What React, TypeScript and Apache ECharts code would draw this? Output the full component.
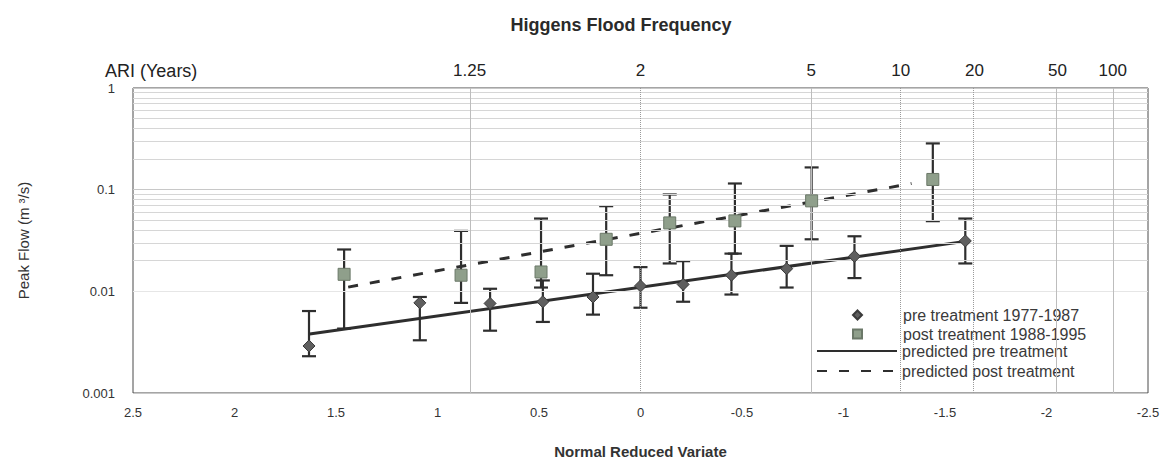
import React, { useEffect, useRef } from "react";
import * as echarts from "echarts";

// ---- data ----
const ariLabels = ["1.25", "2", "5", "10", "20", "50", "100"];
const ariZ = [0.8416, 0, -0.8416, -1.2816, -1.6449, -2.0537, -2.3263];
const ariLineDashed = [false, true, false, true, true, false, false];

const yTickValues = [0.001, 0.01, 0.1, 1];
const yTickLabels = ["0.001", "0.01", "0.1", "1"];
const yMinorLevels = [
  0.002, 0.003, 0.004, 0.005, 0.006, 0.007, 0.008, 0.009,
  0.02, 0.03, 0.04, 0.05, 0.06, 0.07, 0.08, 0.09,
  0.2, 0.3, 0.4, 0.5, 0.6, 0.7, 0.8, 0.9,
];

const preX = [1.633, 1.087, 0.741, 0.481, 0.234, 0.0, -0.21, -0.448, -0.72, -1.054, -1.6];
const preY = [0.0029, 0.0077, 0.0076, 0.0079, 0.0088, 0.0113, 0.0117, 0.0144, 0.0167, 0.0221, 0.0313];
const preLow = [0.0023, 0.0033, 0.0041, 0.005, 0.0059, 0.0069, 0.0079, 0.0093, 0.0109, 0.0135, 0.0188];
const preHigh = [0.0064, 0.0088, 0.0106, 0.0128, 0.0149, 0.0173, 0.0198, 0.0235, 0.028, 0.0348, 0.052];

const postX = [1.46, 0.884, 0.49, 0.169, -0.144, -0.465, -0.843, -1.44];
const postY = [0.0147, 0.0144, 0.0155, 0.0325, 0.0471, 0.0493, 0.0776, 0.126];
const postLow = [0.0043, 0.0077, 0.0109, 0.0144, 0.0188, 0.0235, 0.0325, 0.049];
const postHigh = [0.0258, 0.0393, 0.052, 0.0688, 0.0897, 0.115, 0.1655, 0.285];

const predPreX = [1.63, -1.6];
const predPreY = [0.0038, 0.031];
const predPostX = [1.44, -1.335];
const predPostY = [0.011, 0.115];

const FONT = "'Liberation Sans', Arial, Helvetica, sans-serif";

function errorBarRender(params: any, api: any) {
  const x = api.value(0);
  const lo = api.value(1);
  const hi = api.value(2);
  const a = api.coord([x, hi]);
  const b = api.coord([x, lo]);
  const hw = 7;
  const style = { stroke: "#2e2e2e", lineWidth: 2.2 };
  return {
    type: "group",
    children: [
      { type: "line", shape: { x1: a[0], y1: a[1], x2: b[0], y2: b[1] }, style },
      { type: "line", shape: { x1: a[0] - hw, y1: a[1], x2: a[0] + hw, y2: a[1] }, style },
      { type: "line", shape: { x1: b[0] - hw, y1: b[1], x2: b[0] + hw, y2: b[1] }, style },
    ],
  };
}

export default function App() {
  const ref = useRef<HTMLDivElement>(null);

  useEffect(() => {
    document.body.style.margin = "0";
    if (!ref.current) return;
    const chart = echarts.init(ref.current, undefined, { renderer: "svg" });

    const option: any = {
      animation: false,
      backgroundColor: "#ffffff",
      textStyle: { fontFamily: FONT },
      title: [
        {
          text: "Higgens Flood Frequency",
          left: 616,
          textAlign: "center",
          top: 11,
          textStyle: { fontFamily: FONT, fontSize: 18, fontWeight: "bold", color: "#2a2a2a" },
        },
        {
          text: "ARI (Years)",
          left: 100,
          top: 57,
          textStyle: { fontFamily: FONT, fontSize: 18, fontWeight: "normal", color: "#222" },
        },
      ],
      legend: [
        {
          orient: "vertical",
          left: 847,
          top: 302,
          itemWidth: 9,
          itemHeight: 9,
          itemGap: 3,
          selectedMode: false,
          data: ["pre treatment 1977-1987", "post treatment 1988-1995"],
          textStyle: { fontFamily: FONT, fontSize: 16, color: "#3a3a3a", padding: [0, 0, 0, 36] },
        },
        {
          orient: "vertical",
          left: 811,
          top: 338,
          itemWidth: 80,
          itemHeight: 14,
          itemGap: 4,
          selectedMode: false,
          data: [
            { name: "predicted pre treatment", itemStyle: { opacity: 0 } },
            { name: "predicted post treatment", itemStyle: { opacity: 0 } },
          ],
          textStyle: { fontFamily: FONT, fontSize: 16, color: "#3a3a3a" },
          lineStyle: { width: 2 },
        },
      ],
      grid: {
        left: 133,
        right: 20,
        top: 88,
        bottom: 75,
        show: true,
        borderColor: "#4a4a4a",
        borderWidth: 1,
      },
      xAxis: [
        {
          type: "value",
          min: -2.5,
          max: 2.5,
          interval: 0.5,
          inverse: true,
          position: "bottom",
          axisLine: { show: false },
          axisTick: { show: false },
          splitLine: { show: false },
          axisLabel: { fontFamily: FONT, fontSize: 13, color: "#333", margin: 13 },
          name: "Normal Reduced Variate",
          nameLocation: "middle",
          nameGap: 51,
          nameTextStyle: { fontFamily: FONT, fontSize: 15, fontWeight: "bold", color: "#333" },
        },
        {
          type: "value",
          min: -2.5,
          max: 2.5,
          inverse: true,
          position: "top",
          axisLine: { show: false },
          axisTick: { show: false },
          splitLine: { show: false },
          axisLabel: {
            fontFamily: FONT,
            fontSize: 17,
            color: "#222",
            margin: 9,
            customValues: ariZ,
            formatter: (v: number) => {
              let best = 0;
              for (let i = 1; i < ariZ.length; i++) {
                if (Math.abs(ariZ[i] - v) < Math.abs(ariZ[best] - v)) best = i;
              }
              return ariLabels[best];
            },
          },
        },
      ],
      yAxis: {
        type: "log",
        logBase: 10,
        min: 0.001,
        max: 1,
        axisLine: { show: false },
        axisTick: { show: false },
        splitLine: { show: true, lineStyle: { color: "#c8c8c8", width: 1 } },
        axisLabel: {
          fontFamily: FONT,
          fontSize: 13,
          color: "#333",
          margin: 18,
          formatter: (v: number) => {
            let best = 0;
            for (let i = 1; i < yTickValues.length; i++) {
              if (Math.abs(Math.log10(yTickValues[i]) - Math.log10(v)) < Math.abs(Math.log10(yTickValues[best]) - Math.log10(v))) best = i;
            }
            return yTickLabels[best];
          },
        },
        name: "Peak Flow (m ³/s)",
        nameLocation: "middle",
        nameGap: 102,
        nameRotate: 90,
        nameTextStyle: { fontFamily: FONT, fontSize: 15, color: "#333" },
      },
      series: [
        {
          name: "gridlines",
          type: "line",
          data: [],
          z: 1,
          silent: true,
          symbol: "none",
          markLine: {
            silent: true,
            symbol: "none",
            label: { show: false },
            animation: false,
            data: [
              ...yMinorLevels.map((v) => ({
                yAxis: v,
                lineStyle: { color: v < 0.01 ? "#e6e6e6" : "#d6d6d6", width: 1, type: "solid" },
              })),
              ...ariZ.map((v, i) => ({
                xAxis: v,
                lineStyle: { color: ariLineDashed[i] ? "#9a9a9a" : "#bdbdbd", width: 1, type: ariLineDashed[i] ? "dotted" : "solid" },
              })),
            ],
          },
        },
        {
          name: "pre error",
          type: "custom",
          z: 3,
          silent: true,
          renderItem: errorBarRender,
          encode: { x: 0, y: [1, 2] },
          data: preX.map((x, i) => [x, preLow[i], preHigh[i]]),
        },
        {
          name: "post error",
          type: "custom",
          z: 3,
          silent: true,
          renderItem: errorBarRender,
          encode: { x: 0, y: [1, 2] },
          data: postX.map((x, i) => [x, postLow[i], postHigh[i]]),
        },
        {
          name: "predicted pre treatment",
          type: "line",
          z: 4,
          symbol: "none",
          data: predPreX.map((x, i) => [x, predPreY[i]]),
          lineStyle: { color: "#2e2e2e", width: 3, type: "solid" },
          itemStyle: { color: "#2e2e2e" },
        },
        {
          name: "predicted post treatment",
          type: "line",
          z: 4,
          symbol: "none",
          data: predPostX.map((x, i) => [x, predPostY[i]]),
          lineStyle: { color: "#2e2e2e", width: 3, type: [10, 12] },
          itemStyle: { color: "#2e2e2e" },
        },
        {
          name: "pre treatment 1977-1987",
          type: "scatter",
          z: 5,
          symbol: "diamond",
          symbolSize: 12,
          data: preX.map((x, i) => [x, preY[i]]),
          itemStyle: { color: "#5f5f5f", borderColor: "#3a3a3a", borderWidth: 1, opacity: 1 },
        },
        {
          name: "post treatment 1988-1995",
          type: "scatter",
          z: 5,
          symbol: "rect",
          symbolSize: 12,
          data: postX.map((x, i) => [x, postY[i]]),
          itemStyle: { color: "#8f9f8b", borderColor: "#6b7868", borderWidth: 1, opacity: 1 },
        },
      ],
    };

    chart.setOption(option);
    return () => {
      chart.dispose();
    };
  }, []);

  return <div ref={ref} style={{ width: 1168, height: 468 }} />;
}
